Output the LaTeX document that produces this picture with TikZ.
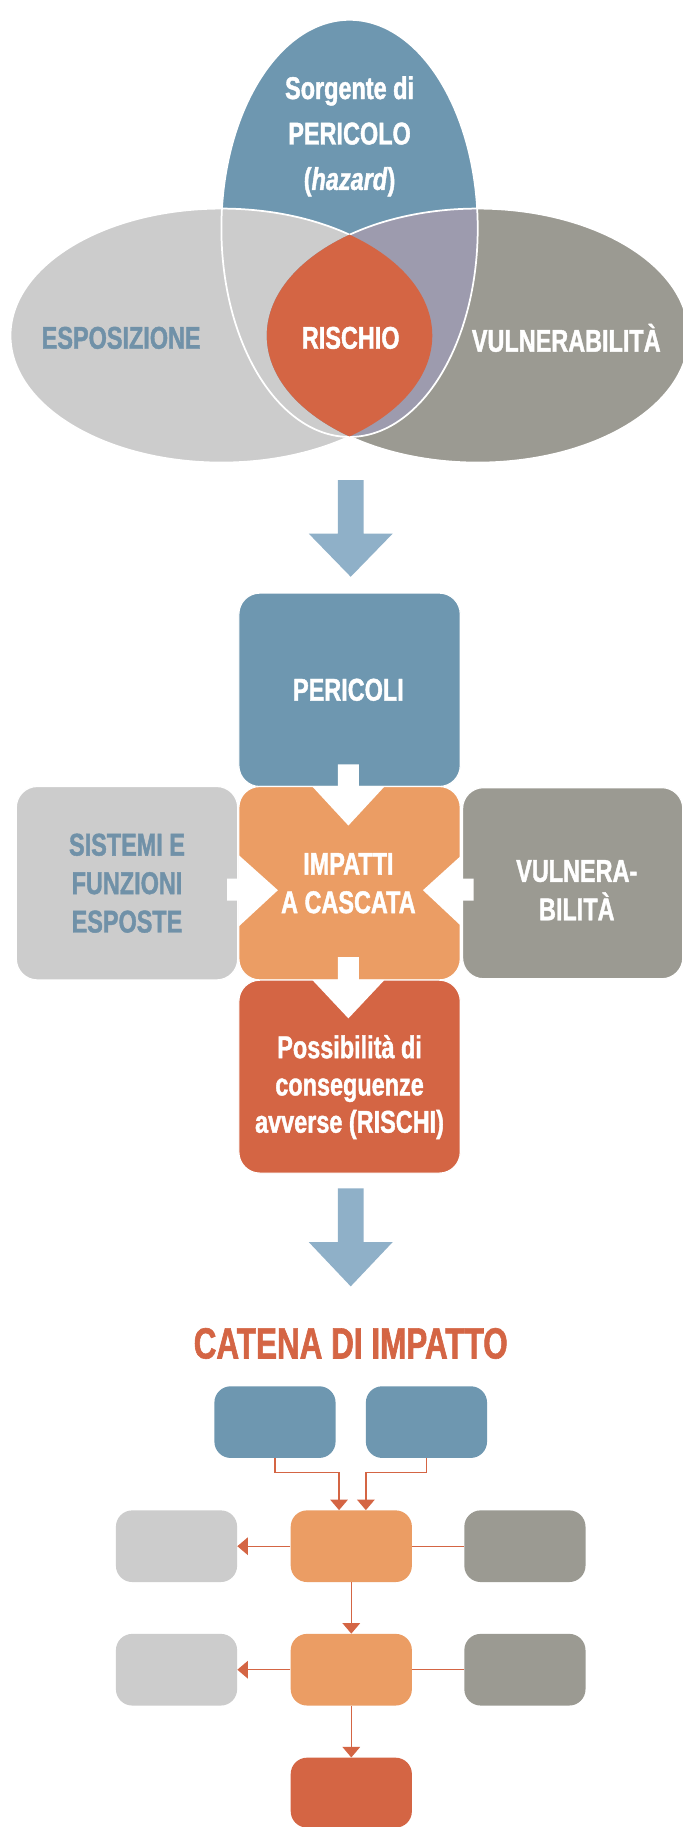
\documentclass[tikz,border=0pt]{standalone}
\usepackage{fontspec}
\setmainfont{Liberation Sans}[FakeStretch=0.745, BoldFeatures={FakeBold=1.3}, BoldItalicFeatures={FakeBold=1.3}]
\newfontfamily\catfont{Liberation Sans}[FakeStretch=0.72, BoldFeatures={FakeBold=1.3}]
\usetikzlibrary{arrows.meta}
\definecolor{hblue}{HTML}{6E97B0}
\definecolor{tblue}{HTML}{7091A8}
\definecolor{lgray}{HTML}{CCCCCC}
\definecolor{dgray}{HTML}{9B9A92}
\definecolor{lav}{HTML}{9D9BAE}
\definecolor{cred}{HTML}{D46544}
\definecolor{corange}{HTML}{EB9D64}
\definecolor{arrblue}{HTML}{8FB0C8}
\begin{document}
\begin{tikzpicture}[x=1pt,y=-1pt,
  lbl/.style={font=\bfseries\fontsize{27}{33}\selectfont, align=center, inner sep=0pt},
  bigbox/.style={rounded corners=18pt, minimum width=190pt, minimum height=166pt, inner sep=0pt, draw=white, line width=1pt},
  chainbox/.style={rounded corners=14pt, minimum width=104pt, minimum height=61.5pt, inner sep=0pt},
  conn/.style={draw=cred, line width=1.1pt},
  arr/.style={-{Triangle[width=15pt,length=9pt]}},
  notch/.style={fill=white},
  blockarrow/.style={fill=arrblue}
]
\useasboundingbox (0,0) rectangle (586,1568);
\fill[white] (0,0) rectangle (586,1568);

% ---------------- Venn ----------------
\fill[hblue] (300,196) ellipse [x radius=110, y radius=179];
\fill[lgray] (190,288) ellipse [x radius=181, y radius=109];
\fill[dgray] (410,288) ellipse [x radius=181, y radius=109];
\begin{scope}
  \clip (300,196) ellipse [x radius=110, y radius=179];
  \fill[lav] (410,288) ellipse [x radius=181, y radius=109];
\end{scope}
\draw[white, line width=1.5pt] (300,196) ellipse [x radius=110, y radius=179];
\begin{scope}
  \clip (-10,-10) rectangle (300,600);
  \draw[white, line width=1.5pt] (190,288) ellipse [x radius=181, y radius=109];
\end{scope}
\begin{scope}
  \clip (300,-10) rectangle (700,600);
  \draw[white, line width=1.5pt] (410,288) ellipse [x radius=181, y radius=109];
\end{scope}
\begin{scope}
  \clip (190,288) ellipse [x radius=181, y radius=109];
  \fill[cred] (410,288) ellipse [x radius=181, y radius=109];
\end{scope}

\node[lbl, text=white, font=\bfseries\fontsize{27}{39}\selectfont] (hazard) at (300,117) {Sorgente di\\PERICOLO\\(\textit{hazard})};
\node[lbl, text=tblue] (espo) at (104,290) {ESPOSIZIONE};
\node[lbl, text=white] (rischio) at (301,290) {RISCHIO};
\node[lbl, text=white] (vuln) at (486,290) {VULNERABILITÀ};

% big arrow 1
\fill[blockarrow] (290,412) -- (312,412) -- (312,458) -- (337,458) -- (301,495) -- (265,458) -- (290,458) -- cycle;

% ---------------- Boxes ----------------
\node[bigbox, fill=hblue] (pericoli) at (300,592) {};
\node[bigbox, fill=corange] (impatti) at (300,758) {};
\node[bigbox, fill=lgray] (sistemi) at (109,758) {};
\node[bigbox, fill=dgray, minimum width=189pt, minimum height=164pt] (vulnbox) at (491.5,758) {};
\node[bigbox, fill=cred, minimum height=165.6pt] (rischi) at (300,924) {};

% white notch arrows
\fill[notch] (290,656) -- (308,656) -- (308,675) -- (330,675) -- (299,708.5) -- (268,675) -- (290,675) -- cycle;
\fill[notch] (290,821.5) -- (308,821.5) -- (308,841) -- (330,841) -- (299,874) -- (268,841) -- (290,841) -- cycle;
\fill[notch] (195,754) -- (205,754) -- (205,734) -- (238.5,764) -- (205,795) -- (205,773) -- (195,773) -- cycle;
\fill[notch] (406.5,754) -- (395,754) -- (395,735) -- (363,764) -- (395,794) -- (395,773) -- (406.5,773) -- cycle;

\node[lbl, text=white] (tpericoli) at (299,592) {PERICOLI};
\node[lbl, text=white] (timpatti) at (299,758) {IMPATTI\\A CASCATA};
\node[lbl, text=tblue] (tsistemi) at (109,758) {SISTEMI E\\FUNZIONI\\ESPOSTE};
\node[lbl, text=white] (tvuln) at (495,764) {VULNERA-\\BILITÀ};
\node[lbl, text=white, font=\bfseries\fontsize{27}{32}\selectfont] (trischi) at (300,933) {Possibilità di\\conseguenze\\avverse (RISCHI)};

% big arrow 2
\fill[blockarrow] (290,1020) -- (312,1020) -- (312,1066) -- (337,1066) -- (301,1104) -- (265,1066) -- (290,1066) -- cycle;

% ---------------- Chain ----------------
\node[lbl, text=cred, font=\catfont\bfseries\fontsize{37.5}{42}\selectfont] (catena) at (301,1153) {CATENA DI IMPATTO};

\node[chainbox, fill=hblue] (tl) at (236,1220.5) {};
\node[chainbox, fill=hblue] (tr) at (366,1220.5) {};
\node[chainbox, fill=lgray] (l1) at (151.5,1327) {};
\node[chainbox, fill=corange] (m1) at (301.5,1327) {};
\node[chainbox, fill=dgray] (r1) at (450.5,1327) {};
\node[chainbox, fill=lgray] (l2) at (151.5,1433) {};
\node[chainbox, fill=corange] (m2) at (301.5,1433) {};
\node[chainbox, fill=dgray] (r2) at (450.5,1433) {};
\node[chainbox, fill=cred, minimum height=60pt] (bot) at (301.5,1538.5) {};

\draw[conn, arr] (tl.south) -- ++(0,12.3) -| ([xshift=-10.5pt]m1.north);
\draw[conn, arr] (tr.south) -- ++(0,12.3) -| ([xshift=12.5pt]m1.north);
\draw[conn, arr] (m1.west) -- (l1.east);
\draw[conn] (r1.west) -- (m1.east);
\draw[conn, arr] (m1.south) -- (m2.north);
\draw[conn, arr] (m2.west) -- (l2.east);
\draw[conn] (r2.west) -- (m2.east);
\draw[conn, arr] (m2.south) -- (bot.north);
\end{tikzpicture}
\end{document}
